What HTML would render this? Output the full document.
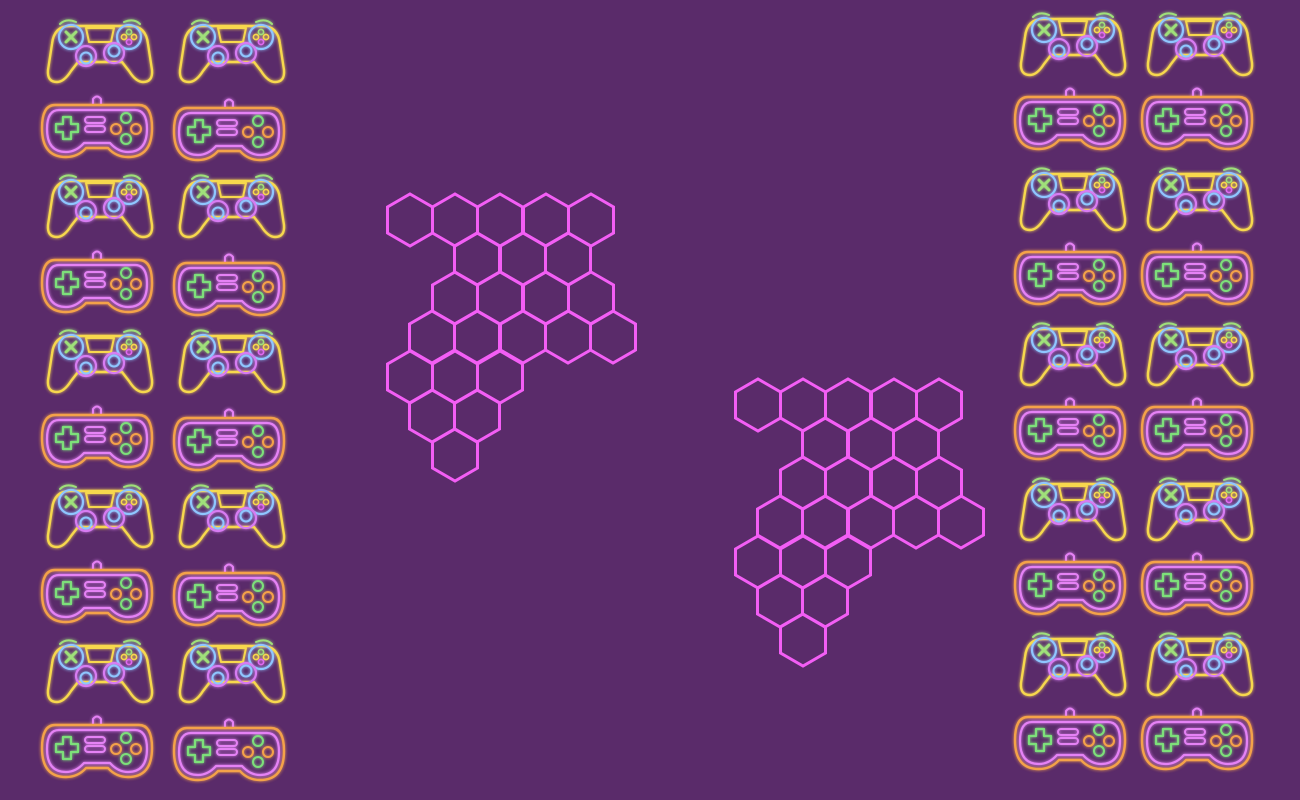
<!DOCTYPE html>
<html><head><meta charset="utf-8"><style>
html,body{margin:0;padding:0;background:#5a2b6a;width:1300px;height:800px;overflow:hidden}
svg{display:block}
</style></head><body>
<svg id="scene" width="1300" height="800" viewBox="0 0 1300 800">
<defs>
<filter id="glow" x="-20%" y="-20%" width="140%" height="140%"><feGaussianBlur stdDeviation="1.6" result="b"/><feMerge><feMergeNode in="b"/><feMergeNode in="SourceGraphic"/></feMerge></filter>
<g id="pad" fill="none" stroke-linecap="round" stroke-linejoin="round">
<path d="M-40 -26 Q-34 -32 -24 -28 M24 -28 Q34 -32 40 -26" stroke="#9fe07a" stroke-width="2"/>
<path d="M-30 -24 Q-46 -24 -48 -6 L-52 20 Q-53 32 -43 32 Q-36 32 -29 21 L-22 12 L22 12 L29 21 Q36 32 43 32 Q53 32 52 20 L48 -6 Q46 -24 30 -24 Z" stroke="#f7d84d" stroke-width="2.4"/>
<path d="M-14 -22 L14 -22 L11 -8 L-11 -8 Z" stroke="#f7d84d" stroke-width="2"/>
<circle cx="-29" cy="-13" r="12" stroke="#8fc6ff" stroke-width="2.2"/>
<path d="M-34 -18 L-24 -8 M-24 -18 L-34 -8" stroke="#9fe07a" stroke-width="3"/>
<circle cx="29" cy="-13" r="12" stroke="#8fc6ff" stroke-width="2.2"/>
<circle cx="29" cy="-18" r="2.6" stroke="#9fe07a" stroke-width="1.6"/>
<circle cx="24" cy="-13" r="2.6" stroke="#f7d84d" stroke-width="1.6"/>
<circle cx="34" cy="-13" r="2.6" stroke="#f7d84d" stroke-width="1.6"/>
<circle cx="29" cy="-8" r="2.6" stroke="#e06af0" stroke-width="1.6"/>
<circle cx="-14" cy="6" r="10" stroke="#d77bf2" stroke-width="2.2"/>
<circle cx="-14" cy="8" r="5.5" stroke="#8fc6ff" stroke-width="2"/>
<circle cx="14" cy="3" r="10" stroke="#d77bf2" stroke-width="2.2"/>
<circle cx="14" cy="1" r="5.5" stroke="#8fc6ff" stroke-width="2"/>
</g>
<g id="snes" fill="none" stroke-linecap="round" stroke-linejoin="round">
<path d="M-4 -24 L-4 -29 Q0 -34 4 -29 L4 -24" stroke="#e582f5" stroke-width="2"/>
<path d="M-42 -23 L42 -23 Q55 -23 55 0 Q55 29 31 29 Q19 29 11 20 L-11 20 Q-19 29 -31 29 Q-55 29 -55 0 Q-55 -23 -42 -23 Z" stroke="#f4a24a" stroke-width="2.4"/>
<path d="M-38 -18 L38 -18 Q50 -18 50 1 Q50 24 31 24 Q21 24 13 15 L-13 15 Q-21 24 -31 24 Q-50 24 -50 1 Q-50 -18 -38 -18 Z" stroke="#e582f5" stroke-width="2.2"/>
<path d="M-34 -11 L-26 -11 L-26 -4 L-19 -4 L-19 4 L-26 4 L-26 11 L-34 11 L-34 4 L-41 4 L-41 -4 L-34 -4 Z" stroke="#7de07a" stroke-width="2.2"/>
<rect x="-12" y="-11" width="20" height="6" rx="3" stroke="#e582f5" stroke-width="2"/>
<rect x="-12" y="-2" width="20" height="6" rx="3" stroke="#e582f5" stroke-width="2"/>
<circle cx="29" cy="-10" r="5" stroke="#7de07a" stroke-width="2"/>
<circle cx="29" cy="11" r="5" stroke="#7de07a" stroke-width="2"/>
<circle cx="19" cy="1" r="5" stroke="#f4a24a" stroke-width="2"/>
<circle cx="39" cy="1" r="5" stroke="#f4a24a" stroke-width="2"/>
</g>
</defs>
<g id="controllers" filter="url(#glow)"></g>
<g id="hexes" fill="none" stroke="#f35ef5" stroke-width="3"></g>
</svg>
<script>
const NS='http://www.w3.org/2000/svg';
const colsX=[100,232,1073,1200];
const padRows=[[50,205,360,515,670],[50,205,360,515,670],[43,198,353,508,663],[43,198,353,508,663]];
const snesRows=[[128,283,438,593,748],[131,286,441,596,751],[120,275,430,585,740],[120,275,430,585,740]];
const hexCells1=[[0,410],[0,455],[0,500],[0,546],[0,591],[1,477],[1,523],[1,568],[2,455],[2,500],[2,546],[2,591],[3,432],[3,477],[3,523],[3,568],[3,613],[4,410],[4,455],[4,500],[5,432],[5,477],[6,455]];
const hexRowY=[220,259,298,337,377,416,455];
const clusterOffsets=[[0,0],[348,185]];
const ctr=document.getElementById('controllers');
colsX.forEach((x,c)=>{
  padRows[c].forEach(y=>{
    const u=document.createElementNS(NS,'use');
    u.setAttribute('href','#pad');
    u.setAttribute('transform',`translate(${x},${y})`);
    
    
    ctr.appendChild(u);
  });
  snesRows[c].forEach(y=>{
    const u=document.createElementNS(NS,'use');
    u.setAttribute('href','#snes');
    u.setAttribute('transform',`translate(${x-3},${y})`);
    
    
    ctr.appendChild(u);
  });
});
const hx=document.getElementById('hexes');
const s=26;
clusterOffsets.forEach(([dx,dy],k)=>{
  const g=document.createElementNS(NS,'g');
  
  
  hexCells1.forEach(([r,x])=>{
    const cx=x+dx, cy=hexRowY[r]+dy;
    const pts=[];
    for(let i=0;i<6;i++){const a=Math.PI/180*(60*i-90);pts.push((cx+s*Math.cos(a)).toFixed(1)+','+(cy+s*Math.sin(a)).toFixed(1));}
    const p=document.createElementNS(NS,'polygon');
    p.setAttribute('points',pts.join(' '));
    
    
    g.appendChild(p);
  });
  hx.appendChild(g);
});
</script>
</body></html>
